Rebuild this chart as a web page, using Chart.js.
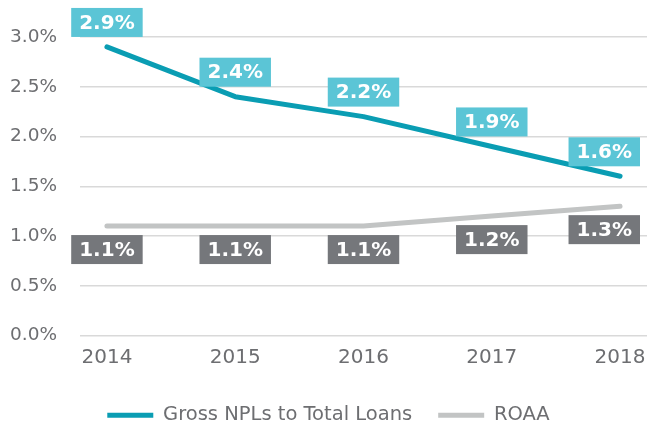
<!DOCTYPE html>
<html>
<head>
<meta charset="utf-8">
<script src="https://cdn.jsdelivr.net/npm/chart.js@4"></script>
<style>
  html, body { margin: 0; padding: 0; background: #fff; }
  #wrap { width: 647px; height: 427px; }
</style>
</head>
<body>
<div id="wrap"><canvas id="chart" width="647" height="427"></canvas></div>
<script>
const years = [2014, 2015, 2016, 2017, 2018];
const nplRatio = [2.9, 2.4, 2.2, 1.9, 1.6];
const roaa = [1.1, 1.1, 1.1, 1.2, 1.3];
const yTicks = [0, 0.5, 1.0, 1.5, 2.0, 2.5, 3.0];

const FONT = "'DejaVu Sans', sans-serif";
const TEXT_GREY = "#6d6e71";

// boxed value labels above / below each point
const boxLabels = {
  id: "boxLabels",
  afterDatasetsDraw(chart) {
    const ctx = chart.ctx;
    ctx.save();
    ctx.font = "bold 20px " + FONT;
    ctx.textAlign = "center";
    ctx.textBaseline = "middle";
    chart.data.datasets.forEach((ds, i) => {
      const meta = chart.getDatasetMeta(i);
      meta.data.forEach((pt, j) => {
        const text = ds.data[j].y.toFixed(1) + "%";
        const w = ctx.measureText(text).width + 16;
        const h = 29;
        let left = pt.x - w / 2;
        if (left + w > chart.width - 7) left = chart.width - 7 - w;
        const top = ds.labelPos === "above" ? pt.y - 10 - h : pt.y + 9;
        ctx.fillStyle = ds.labelBg;
        ctx.fillRect(left, top, w, h);
        ctx.fillStyle = "#fff";
        ctx.fillText(text, left + w / 2, top + h / 2 + 1);
      });
    });
    ctx.restore();
  }
};

new Chart(document.getElementById("chart").getContext("2d"), {
  type: "line",
  data: {
    datasets: [{
      label: "Gross NPLs to Total Loans",
      data: nplRatio.map((v, i) => ({ x: years[i], y: v })),
      borderColor: "#0a9db3",
      backgroundColor: "#0a9db3",
      borderWidth: 5,
      labelBg: "#5bc5d6",
      labelPos: "above"
    }, {
      label: "ROAA",
      data: roaa.map((v, i) => ({ x: years[i], y: v })),
      borderColor: "#c2c4c4",
      backgroundColor: "#c2c4c4",
      borderWidth: 5,
      labelBg: "#75777b",
      labelPos: "below"
    }]
  },
  options: {
    responsive: false,
    animation: false,
    layout: { padding: { left: 10, right: 0, top: 37, bottom: -8 } },
    elements: {
      point: { radius: 0 },
      line: { tension: 0, borderCapStyle: "round", borderJoinStyle: "round" }
    },
    scales: {
      x: {
        type: "linear",
        min: 2013.79,
        max: 2018.21,
        afterBuildTicks: scale => { scale.ticks = years.map(v => ({ value: v })); },
        afterFit: scale => {
          scale.paddingLeft = 0;
          scale.paddingRight = 0;
        },
        grid: { display: false, drawTicks: false },
        border: { display: false },
        ticks: {
          padding: 10,
          color: TEXT_GREY,
          font: { family: FONT, size: 20 },
          callback: v => String(v)
        }
      },
      y: {
        min: 0,
        max: 3,
        afterBuildTicks: scale => { scale.ticks = yTicks.map(v => ({ value: v })); },
        afterFit: scale => { scale.width = 70; },
        grid: { color: "#d9d9d9", lineWidth: 1.5, drawTicks: false },
        border: { display: false },
        ticks: {
          padding: 23,
          color: TEXT_GREY,
          font: { family: FONT, size: 18.5 },
          callback: v => v.toFixed(1) + "%"
        }
      }
    },
    plugins: {
      tooltip: { enabled: false },
      legend: {
        position: "bottom",
        labels: {
          color: TEXT_GREY,
          font: { family: FONT, size: 19.5 },
          boxWidth: 46,
          boxHeight: 5,
          padding: 26,
          useBorderRadius: true,
          borderRadius: 2.5,
          generateLabels: chart => chart.data.datasets.map((ds, i) => ({
            text: ds.label,
            fillStyle: ds.borderColor,
            strokeStyle: ds.borderColor,
            lineWidth: 0,
            fontColor: TEXT_GREY,
            datasetIndex: i
          }))
        }
      }
    }
  },
  plugins: [boxLabels]
});
</script>
</body>
</html>
